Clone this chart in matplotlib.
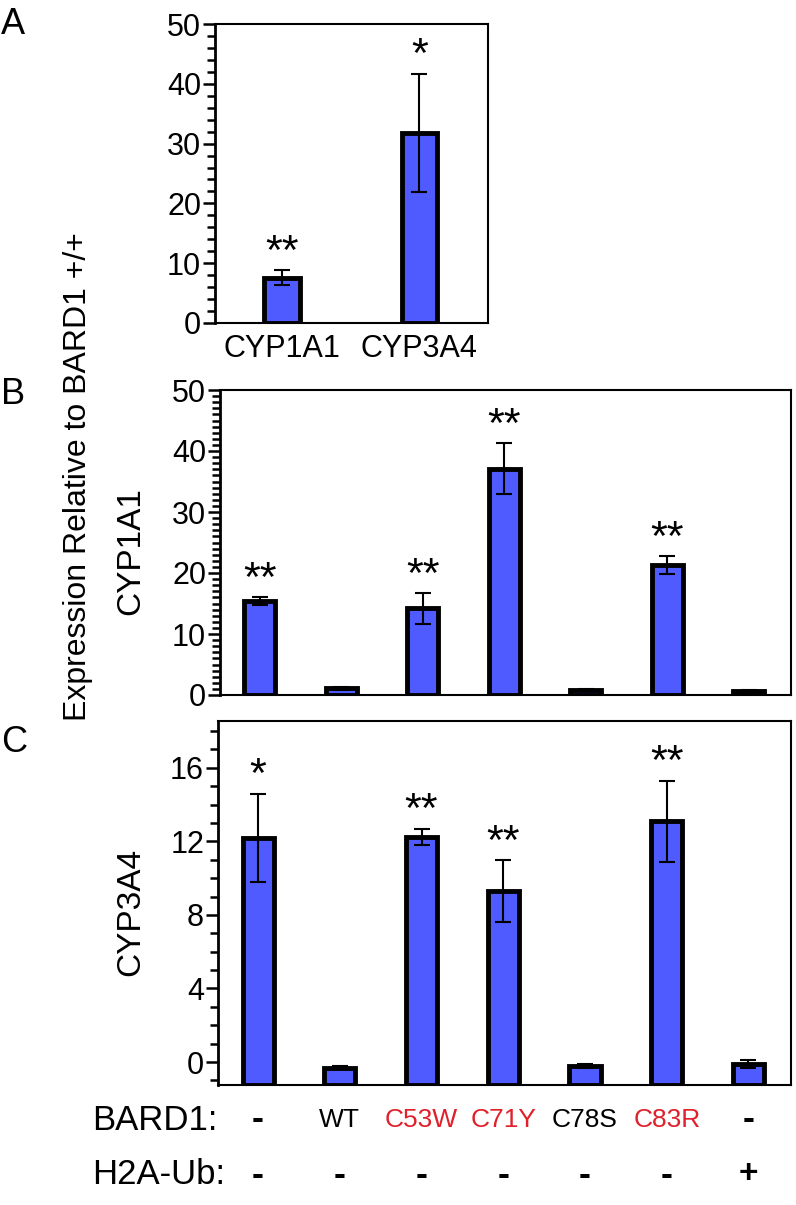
import numpy as np
import matplotlib
matplotlib.use("Agg")
import matplotlib.pyplot as plt
import matplotlib.transforms as mtransforms
from matplotlib.ticker import MultipleLocator

plt.rcParams['font.family'] = ['Liberation Sans', 'DejaVu Sans']

# ----------------------------------------------------------------
# Data
# ----------------------------------------------------------------
a_genes = ["CYP1A1", "CYP3A4"]
a_vals = [7.6, 31.8]
a_err = [1.2, 9.9]
a_stars = ["**", "*"]

bard1_labels = ["-", "WT", "C53W", "C71Y", "C78S", "C83R", "-"]
bard1_colors = ["black", "black", "#e0202a", "#e0202a", "black", "#e0202a", "black"]
h2a_labels = ["-", "-", "-", "-", "-", "-", "+"]

cyp1a1_vals = [15.4, 1.1, 14.2, 37.1, 0.9, 21.3, 0.7]
cyp1a1_err = [0.7, 0.2, 2.5, 4.2, 0.15, 1.5, 0.2]
cyp1a1_stars = ["**", "", "**", "**", "", "**", ""]

cyp3a4_vals = [12.2, -0.3, 12.25, 9.3, -0.2, 13.1, -0.1]
cyp3a4_err = [2.4, 0.1, 0.45, 1.7, 0.1, 2.2, 0.2]
cyp3a4_stars = ["*", "", "**", "**", "", "**", ""]

BLUE = "#4f5bff"
W, H = 796, 1205

fig = plt.figure(figsize=(W / 100, H / 100), dpi=100)


def px_axes(l, t, r, b):
    return fig.add_axes([l / W, 1 - b / H, (r - l) / W, (b - t) / H])


def style(ax, major, minor):
    for s in ax.spines.values():
        s.set_linewidth(1.5)
    ax.spines['left'].set_linewidth(2)
    ax.yaxis.set_major_locator(MultipleLocator(major))
    ax.yaxis.set_minor_locator(MultipleLocator(minor))
    ax.tick_params(axis='y', which='major', direction='out', length=9,
                   width=1.8, labelsize=22, pad=1)
    ax.tick_params(axis='y', which='minor', direction='out', length=5.5, width=1.8)
    ax.tick_params(axis='x', length=0)


def draw_bars(ax, x, vals, err, stars, width, base=0.0):
    vals = np.asarray(vals)
    ax.bar(x, vals - base, width, bottom=base, color=BLUE, edgecolor='black',
           linewidth=3.5, zorder=2)
    ax.errorbar(x, vals, yerr=err, fmt='none', ecolor='black', elinewidth=1.5,
                capsize=6, capthick=1.5, zorder=3)
    for xi, v, e, s in zip(x, vals, err, stars):
        if s:
            ax.annotate(s, xy=(xi, v + e), xytext=(0, 4.5), textcoords='offset points',
                        ha='center', va='baseline', fontsize=31)


# Panel A
ax_a = px_axes(215, 24, 488, 323)
xa = np.arange(len(a_genes))
draw_bars(ax_a, xa, a_vals, a_err, a_stars, 0.26)
ax_a.set_xlim(-0.49, 1.5)
ax_a.set_ylim(0, 50)
style(ax_a, 10, 2)
ax_a.set_xticks(xa)
ax_a.set_xticklabels(a_genes, fontsize=22)
ax_a.tick_params(axis='x', pad=8)

# Panel B
ax_b = px_axes(220, 390, 791, 695)
xb = np.arange(len(bard1_labels))
draw_bars(ax_b, xb, cyp1a1_vals, cyp1a1_err, cyp1a1_stars, 0.38)
ax_b.set_xlim(-0.49, 6.52)
ax_b.set_ylim(0, 50)
style(ax_b, 10, 1)
ax_b.set_xticks([])

# Panel C
ax_c = px_axes(218, 721, 791, 1085)
c_bottom = -1.25
draw_bars(ax_c, xb, cyp3a4_vals, cyp3a4_err, cyp3a4_stars, 0.38, base=c_bottom)
ax_c.set_xlim(-0.49, 6.52)
ax_c.set_ylim(c_bottom, 18.55)
style(ax_c, 4, 1)
ax_c.set_xticks([])

# axis titles and panel letters
fig.text(78 / W, 1 - 477 / H, "Expression Relative to BARD1 +/+", rotation=90,
         ha='center', va='center', fontsize=23)
fig.text(131 / W, 1 - 551 / H, "CYP1A1", rotation=90, ha='center', va='center', fontsize=24)
fig.text(131 / W, 1 - 912 / H, "CYP3A4", rotation=90, ha='center', va='center', fontsize=24)
for letter, yp in [("A", 24), ("B", 395), ("C", 742)]:
    fig.text(1 / W, 1 - yp / H, letter, ha='left', va='center', fontsize=26)

# genotype rows under panel C
trans = mtransforms.blended_transform_factory(ax_c.transData, fig.transFigure)
fig.text(92 / W, 1 - 1120 / H, "BARD1:", ha='left', va='center', fontsize=25)
fig.text(92 / W, 1 - 1175 / H, "H2A-Ub:", ha='left', va='center', fontsize=25)
for xi, lab, col in zip(xb, bard1_labels, bard1_colors):
    if lab == "-":
        ax_c.text(xi, 1 - 1120 / H, lab, transform=trans, ha='center', va='center',
                  fontsize=26, fontweight='bold', color=col)
    else:
        ax_c.text(xi, 1 - 1120 / H, lab, transform=trans, ha='center', va='center',
                  fontsize=19, color=col)
for xi, lab in zip(xb, h2a_labels):
    ax_c.text(xi, 1 - 1175 / H, lab, transform=trans, ha='center', va='center',
              fontsize=26 if lab == "-" else 24, fontweight='bold')

fig.savefig("out.png", dpi=100)
